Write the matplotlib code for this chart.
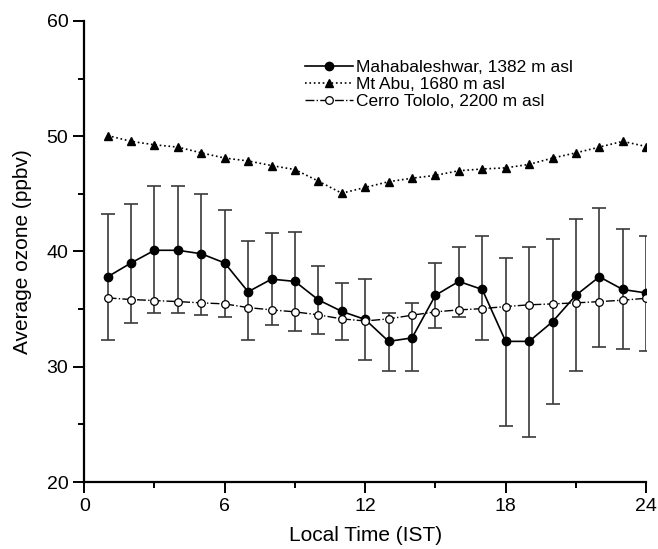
import matplotlib.pyplot as plt
import numpy as np
from matplotlib.ticker import MultipleLocator

plt.rcParams["font.family"] = ["Liberation Sans", "DejaVu Sans"]

hours = list(range(1, 25))

maha = [37.8, 39.0, 40.1, 40.1, 39.8, 39.0, 36.5, 37.6, 37.4, 35.8, 34.8, 34.1,
        32.2, 32.5, 36.2, 37.4, 36.7, 32.2, 32.2, 33.9, 36.2, 37.8, 36.7, 36.4]
maha_upper = [43.25, 44.1, 45.7, 45.7, 45.0, 43.6, 40.9, 41.6, 41.7, 38.7, 37.25, 37.6,
              34.7, 35.5, 39.0, 40.35, 41.3, 39.45, 40.35, 41.1, 42.8, 43.8, 41.95, 41.35]
maha_lower = [32.3, 33.8, 34.7, 34.7, 34.5, 34.3, 32.3, 33.6, 33.1, 32.8, 32.3, 30.6,
              29.6, 29.6, 33.4, 34.35, 32.3, 24.85, 23.9, 26.8, 29.6, 31.75, 31.5, 31.35]

abu = [50.05, 49.55, 49.25, 49.05, 48.55, 48.1, 47.85, 47.45, 47.1, 46.1, 45.05, 45.55,
       46.05, 46.35, 46.6, 47.0, 47.15, 47.25, 47.55, 48.1, 48.55, 49.05, 49.55, 49.1]

tololo = [35.97, 35.83, 35.74, 35.65, 35.54, 35.45, 35.13, 34.93, 34.76, 34.5, 34.15, 33.97,
          34.15, 34.47, 34.76, 34.93, 35.04, 35.22, 35.37, 35.45, 35.54, 35.65, 35.77, 35.94]

labels = ["Mahabaleshwar, 1382 m asl", "Mt Abu, 1680 m asl", "Cerro Tololo, 2200 m asl"]

fig = plt.figure(figsize=(6.58, 5.49), dpi=100)
ax = fig.add_axes([0.128, 0.122, 0.854, 0.840])

maha = np.array(maha)
yerr = [maha - np.array(maha_lower), np.array(maha_upper) - maha]

ax.errorbar(hours, maha, yerr=yerr, fmt="none", ecolor="#3a3a3a", elinewidth=1.2,
            capsize=5, capthick=1.2, zorder=1)
ax.plot(hours, maha, "-", color="black", marker="o", markersize=6, linewidth=1.2,
        label=labels[0], zorder=3)
ax.plot(hours, abu, ":", color="black", marker="^", markersize=6, linewidth=1.2,
        label=labels[1], zorder=3)
ax.plot(hours, tololo, "-.", color="black", marker="o", markersize=5.5, markerfacecolor="white",
        markeredgewidth=0.9, linewidth=1.0, label=labels[2], zorder=4)

ax.set_xlim(0, 24)
ax.set_ylim(20, 60)
ax.xaxis.set_major_locator(MultipleLocator(6))
ax.xaxis.set_minor_locator(MultipleLocator(3))
ax.yaxis.set_major_locator(MultipleLocator(10))
ax.yaxis.set_minor_locator(MultipleLocator(5))

for side in ("top", "right"):
    ax.spines[side].set_visible(False)
for side in ("left", "bottom"):
    ax.spines[side].set_linewidth(1.6)

ax.tick_params(which="major", direction="out", length=8, width=1.4, labelsize=14)
ax.tick_params(which="minor", direction="out", length=4, width=1.4)

ax.set_xlabel("Local Time (IST)", fontsize=15, labelpad=8)
ax.set_ylabel("Average ozone (ppbv)", fontsize=15, labelpad=10)

ax.legend(loc="upper left", bbox_to_anchor=(0.393, 0.915), frameon=False, fontsize=12.5,
          handlelength=2.75, handletextpad=0.2, labelspacing=0.1, borderpad=0,
          borderaxespad=0)

fig.savefig("out.png", dpi=100)
